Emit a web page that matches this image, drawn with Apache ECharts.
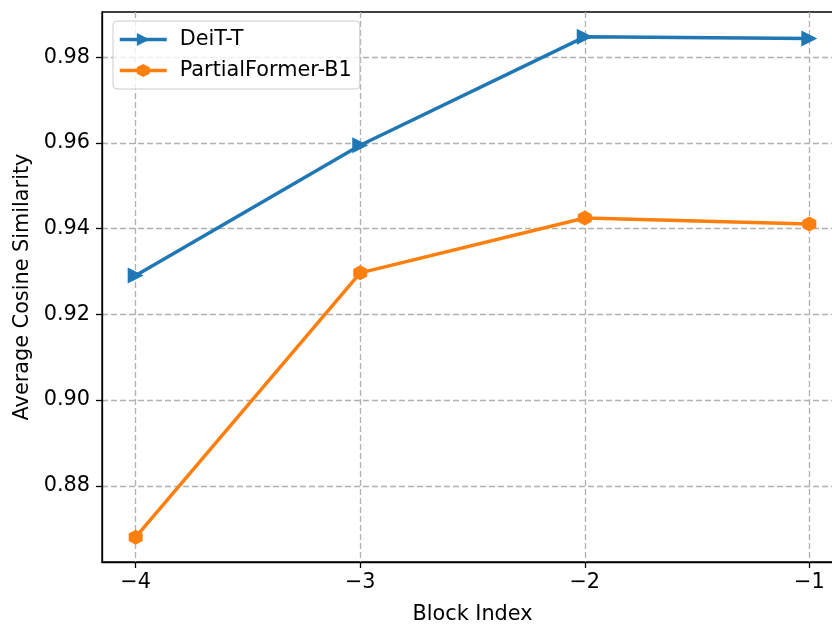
<!DOCTYPE html>
<html>
<head>
<meta charset="utf-8">
<script src="https://cdn.jsdelivr.net/npm/echarts@6/dist/echarts.min.js"></script>
<style>
  html, body { margin: 0; padding: 0; background: #fff; }
  #chart { width: 832px; height: 628px; }
</style>
</head>
<body>
<div id="chart"></div>
<script>
// Block positions counted from the last transformer block
const blockIndex = [-4, -3, -2, -1];
// Average cosine similarity per block
const deitT = [0.9291, 0.9595, 0.9848, 0.9844];
const partialFormerB1 = [0.8680, 0.9297, 0.9425, 0.9411];
// Tick values
const xTicks = [-4, -3, -2, -1];
const yTicks = [0.88, 0.90, 0.92, 0.94, 0.96, 0.98];

const FONT = 'DejaVu Sans';
const FS = 20.8;
const hexagon = 'path://M0,-1 L0.866,-0.5 L0.866,0.5 L0,1 L-0.866,0.5 L-0.866,-0.5 Z';
const gridLine = { show: true, lineStyle: { color: '#b0b0b0', width: 1.3, type: [6, 3] } };
const minus = v => (v < 0 ? '\u2212' + Math.abs(v) : String(v));

const chart = echarts.init(document.getElementById('chart'), null, { renderer: 'canvas' });
chart.setOption({
  animation: false,
  backgroundColor: '#fff',
  textStyle: { fontFamily: FONT },
  grid: {
    left: 102, top: 12, width: 741, height: 550,
    outerBoundsMode: 'none', containLabel: false,
    show: true, borderColor: '#000', borderWidth: 1.3, backgroundColor: 'transparent'
  },
  legend: {
    left: 113, top: 21,
    orient: 'vertical',
    itemWidth: 47, itemHeight: 16, itemGap: 10,
    padding: [8, 8, 8, 5],
    backgroundColor: 'rgba(255,255,255,0.8)',
    borderColor: '#cccccc', borderWidth: 1, borderRadius: 4,
    textStyle: { fontFamily: FONT, fontSize: FS, color: '#000', padding: [0, 0, 0, 8] },
    data: [
      { name: 'DeiT-T', lineStyle: { width: 3.5, color: '#1f77b4' } },
      { name: 'PartialFormer-B1', lineStyle: { width: 3.5, color: '#ff7f0e' } }
    ]
  },
  xAxis: {
    type: 'value', min: -4.15, max: -0.85,
    name: 'Block Index', nameLocation: 'middle', nameGap: 42,
    nameTextStyle: { fontFamily: FONT, fontSize: FS, color: '#000' },
    axisLine: { show: true, onZero: false, lineStyle: { color: '#000', width: 1.3 } },
    axisTick: { show: true, length: 6, customValues: xTicks, lineStyle: { color: '#000', width: 1.3 } },
    axisLabel: { customValues: xTicks, margin: 10, fontFamily: FONT, fontSize: FS, color: '#000', formatter: minus },
    splitLine: gridLine
  },
  yAxis: {
    type: 'value', min: 0.8622, max: 0.9906,
    name: 'Average Cosine Similarity', nameLocation: 'middle', nameGap: 68,
    nameTextStyle: { fontFamily: FONT, fontSize: FS, color: '#000' },
    axisLine: { show: true, onZero: false, lineStyle: { color: '#000', width: 1.3 } },
    axisTick: { show: true, length: 6, customValues: yTicks, lineStyle: { color: '#000', width: 1.3 } },
    axisLabel: { customValues: yTicks, margin: 12, fontFamily: FONT, fontSize: FS, color: '#000', formatter: v => v.toFixed(2) },
    splitLine: gridLine
  },
  series: [
    {
      name: 'DeiT-T', type: 'line',
      data: blockIndex.map((x, i) => [x, deitT[i]]),
      color: '#1f77b4',
      lineStyle: { width: 3.5 },
      symbol: 'triangle', symbolRotate: -90, symbolSize: [16, 16],
      showAllSymbol: true,
      itemStyle: { color: '#1f77b4' },
      z: 3
    },
    {
      name: 'PartialFormer-B1', type: 'line',
      data: blockIndex.map((x, i) => [x, partialFormerB1[i]]),
      color: '#ff7f0e',
      lineStyle: { width: 3.5 },
      symbol: hexagon, symbolSize: [14, 15], symbolKeepAspect: false,
      showAllSymbol: true,
      itemStyle: { color: '#ff7f0e' },
      z: 3
    }
  ]
});
</script>
</body>
</html>
